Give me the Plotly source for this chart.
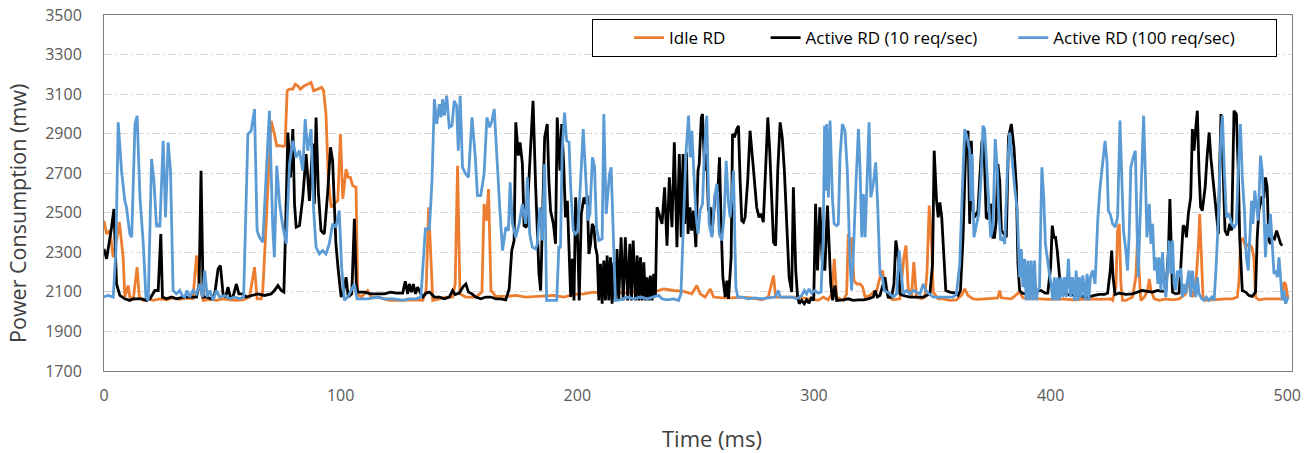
import plotly.graph_objects as go

# ---- data (time in ms, power in mW) ----
idle_rd = [
(0,2460),(1.1,2393),(2.5,2410),(3.9,2275),(5.3,2360),(6.5,2452),(8.1,2275),(8.8,2074),(10.2,2132),(10.9,2074),(12.4,2065),(14.0,2225),(14.9,2074),(16.6,2057),(18.7,2065),(20.8,2057),(23.6,2065),(26.4,2060),(29.2,2070),(32.0,2062),(34.8,2068),(37.6,2065),(39.1,2284),(40.2,2140),(41.9,2057),(44.7,2062),(47.5,2057),(50.3,2065),(53.1,2060),(55.9,2057),(58.7,2060),
(61.5,2074),(63.6,2225),(64.7,2065),(66.4,2065),(67.1,2107),(68.1,2343),(69.2,2595),(70.6,2965),(72.0,2898),(73.0,2839),(74.2,2839),(75.6,2836),(76.5,2839),(77.4,3117),(78.4,3125),(79.8,3125),(80.8,3150),(81.9,3142),(83.0,3125),(84.7,3142),(86.1,3150),(87.5,3159),(88.6,3117),(90.3,3125),(92.0,3134),(92.8,3117),(93.8,3000),(94.8,2662),(96.0,2528),(97.3,2545),(98.8,2561),(99.9,2898),(100.9,2570),(102.3,2721),(103.2,2679),(104.1,2679),(105.1,2637),(106.5,2629),(107.2,2090),(108.6,2074),(111.4,2107),(112.8,2074),(115.6,2074),(118.4,2065),
(120.6,2057),(124.8,2057),(129.0,2060),(134.7,2057),(136.1,2107),(137.2,2528),(138.2,2292),(138.9,2057),(141.7,2065),(144.5,2074),(147.3,2074),(148.4,2140),(149.4,2738),(150.4,2090),(152.9,2074),(157.1,2074),(159.7,2099),(160.6,2545),(161.6,2460),(162.5,2620),(163.5,2107),(165.6,2077),(169.8,2077),(174.0,2082),(178.2,2074),(182.4,2077),
(185.9,2077),(190.1,2082),(194.3,2074),(198.6,2087),(202.8,2090),(207.0,2099),(211.2,2090),(215.4,2099),(219.6,2094),(223.9,2099),(228.1,2099),(232.3,2099),(236.5,2115),(240.7,2107),(244.9,2103),
(248.4,2090),(250.5,2132),(251.9,2090),(254.0,2074),(256.2,2115),(257.6,2074),(261.1,2070),(265.3,2070),(269.5,2074),(273.7,2070),(277.9,2060),(280.7,2074),(282.9,2183),(283.8,2074),(286.4,2074),(289.2,2077),(293.4,2074),(297.6,2065),(301.8,2057),(303.9,2074),(306.0,2060),
(307.5,2090),(308.6,2267),(309.6,2074),(312.4,2057),(313.8,2090),(314.5,2393),(315.2,2275),(315.9,2376),(316.9,2157),(318.1,2140),(319.5,2140),(320.6,2124),(321.6,2074),(323.7,2082),(325.1,2099),(326.5,2107),(327.9,2174),(329.0,2208),(330.0,2124),(331.4,2074),(333.5,2060),(336.3,2065),(338.0,2275),(338.9,2334),(339.8,2124),(341.2,2074),(342.2,2250),(343.3,2074),(345.5,2065),(346.9,2074),(347.8,2208),(348.7,2536),(349.7,2343),(350.4,2099),(352.5,2065),(354.6,2065),(357.4,2057),(360.2,2060),(362.3,2082),(363.7,2115),(365.1,2082),(367.2,2065),
(369.3,2062),(373.5,2065),(377.7,2070),(378.5,2107),(379.2,2070),(383.4,2065),(386.9,2099),(388.3,2070),(393.2,2065),(398.8,2062),(404.4,2065),(410.1,2060),(415.7,2065),(421.3,2062),(425.5,2065),
(426.2,2057),(427.6,2124),(428.3,2410),(429.0,2444),(429.7,2140),(430.4,2057),(431.8,2057),(434.6,2074),(436.0,2174),(436.7,2360),(437.4,2208),(438.1,2057),(439.6,2074),(441.0,2107),(441.7,2166),(442.4,2107),(443.8,2065),(445.9,2057),(448.7,2065),(451.5,2060),(454.3,2065),(457.1,2090),(458.5,2157),(459.9,2074),(461.3,2124),(462.5,2343),(463.0,2494),(463.9,2225),(464.4,2074),(465.6,2057),(468.4,2060),(471.2,2065),(474.0,2065),(476.8,2065),(478.9,2074),(479.6,2157),(480.3,2360),(481.3,2368),(482.4,2326),(483.8,2343),(485.0,2326),(485.9,2275),(486.6,2074),(488.0,2060),(490.8,2065),(493.7,2065),(496.5,2065),(497.9,2065),(498.6,2149),(499.3,2140),(500.3,2065),
]

active_10 = [
(0,2317),(1.1,2267),(3.2,2427),(4.2,2519),(5.3,2140),(6.7,2082),(8.8,2065),(10.9,2057),(12.4,2065),(13.8,2065),(15.9,2065),(18.0,2057),(19.4,2065),(21.5,2107),(22.9,2107),(24.0,2393),(24.7,2074),(26.4,2065),(28.5,2074),(30.6,2065),(33.4,2074),(36.2,2074),(39.1,2074),(40.2,2140),(41.0,2713),(41.9,2074),(43.3,2074),(45.4,2065),(46.8,2090),(48.2,2216),(49.2,2233),(50.3,2090),(51.4,2074),(52.4,2124),(53.4,2074),(54.5,2074),(55.9,2140),(57.0,2090),(58.7,2090),(60.1,2074),
(62.2,2082),(65.0,2090),(67.8,2082),(70.6,2090),(72.0,2107),(73.5,2132),(74.9,2107),(76.0,2099),(76.5,2309),(77.7,2906),(78.8,2679),(79.8,2923),(80.5,2545),(81.2,2427),(82.6,2435),(84.0,2578),(85.4,2797),(86.8,2560),(88.2,2850),(88.9,2545),(89.6,2982),(90.6,2600),(91.7,2410),(93.1,2393),(94.5,2600),(95.7,2831),(96.6,2763),(98.0,2343),(99.0,2208),(100.2,2074),(101.3,2107),(102.3,2174),(103.2,2074),(104.7,2090),(105.8,2469),(106.6,2140),(107.2,2099),(110.0,2099),(112.8,2090),(115.6,2090),(118.4,2090),(121.2,2099),
(123.4,2094),(126.2,2094),(127.3,2154),(128.3,2090),(129.0,2140),(129.9,2099),(130.7,2140),(131.6,2090),(132.5,2124),(133.5,2099),(134.7,2074),(136.1,2094),(137.5,2099),(139.6,2074),(141.7,2074),(143.8,2065),(145.9,2074),(147.3,2107),(148.4,2087),(150.1,2094),(151.8,2127),(152.9,2140),(154.0,2099),(155.5,2090),(157.1,2074),(159.2,2065),(161.4,2074),(163.5,2074),(165.6,2065),(167.7,2065),(169.8,2060),(171.2,2115),(172.3,2309),(173.3,2360),(174.0,2957),(175.1,2789),(175.8,2856),(176.8,2747),(177.5,2435),(178.5,2427),(179.6,2662),(181.3,3066),(182.4,2629),
(183.8,2191),(184.5,2107),(185.2,2477),(186.2,2881),(187.3,2949),(188.0,2662),(188.7,2511),(189.9,2444),(190.8,2343),(191.5,2982),(192.7,2713),(193.4,2949),(194.3,2730),(195.0,2477),(195.8,2561),(196.5,2258),(197.2,2074),(197.9,2267),(198.6,2057),(199.3,2578),(200.2,2343),(200.8,2057),(201.7,2494),(202.8,2578),(203.5,2545),(204.2,2587),(204.9,2292),(205.6,2343),(206.3,2444),(207.0,2427),(207.7,2326),(208.4,2284),(209.1,2057),(209.8,2242),(210.5,2040),(211.2,2258),(211.9,2057),(212.6,2284),(213.3,2057),(214.0,2275),(214.7,2040),(215.4,2250),(216.1,2057),(216.8,2317),(217.5,2057),(218.5,2376),(219.4,2057),(220.3,2376),(221.3,2057),(222.2,2343),(222.9,2057),(223.6,2360),(224.6,2057),(225.3,2284),(226.0,2057),(226.7,2275),(227.4,2057),(228.1,2250),(228.8,2057),(229.5,2174),(230.2,2057),(230.9,2183),(231.6,2057),(232.3,2191),(233.0,2074),(233.7,2528),(234.8,2477),(235.8,2444),(236.9,2629),(237.9,2334),(238.9,2679),(240.0,2427),(241.0,2856),(242.1,2326),(243.1,2797),(243.9,2376),
(244.7,2797),(245.4,2444),(246.1,2805),(246.8,2393),(247.6,2528),(248.3,2410),(249.1,2511),(250.1,2326),(251.0,2713),(251.5,2747),(252.4,2982),(252.9,2999),(253.8,2713),(254.7,2797),(255.4,2511),(256.2,2528),(256.9,2393),(258.3,2595),(259.4,2612),(260.1,2780),(260.8,2427),(261.5,2174),(262.5,2074),(263.2,2157),(263.9,2065),(265.0,2275),(265.6,2898),(266.4,2881),(267.4,2923),(268.1,2940),(268.8,2662),(269.5,2460),(270.2,2452),(270.9,2477),(272.0,2662),(273.0,2915),(274.0,2780),(274.8,2646),(275.8,2528),(276.8,2477),(277.7,2494),(278.6,2452),(279.6,2763),(280.5,2982),(281.3,2814),(282.1,2545),(282.9,2351),(283.8,2334),(284.7,2713),(285.7,2957),(286.6,2881),(287.5,2713),(288.5,2427),(289.5,2174),(290.6,2099),(291.3,2629),(292.3,2208),(293.1,2074),(293.8,2040),(294.8,2057),(295.9,2040),(296.9,2060),(297.9,2043),(299.0,2074),(299.9,2057),(300.7,2545),(301.5,2208),(302.5,2528),(303.5,2258),(304.6,2208),
(305.7,2536),(306.5,2343),(307.1,2140),(307.9,2057),(308.9,2132),(309.6,2057),(311.0,2057),(312.4,2060),(314.5,2065),(316.6,2057),(318.8,2060),(320.9,2060),(323.0,2065),(325.1,2074),(325.8,2107),(326.8,2074),(327.9,2082),(329.0,2124),(330.0,2174),(330.7,2115),(331.4,2074),(332.8,2074),(333.8,2140),(334.6,2360),(335.6,2275),(336.3,2090),(337.7,2082),(340.5,2074),(343.3,2074),(346.2,2074),(349.0,2090),(350.1,2242),(350.8,2814),(351.8,2561),(352.5,2477),(353.2,2553),(354.0,2477),(354.9,2275),(355.7,2107),(357.4,2099),(359.5,2094),(360.9,2082),(361.9,2107),(363.0,2376),(364.1,2814),(365.1,2915),(365.8,2444),(366.5,2864),
(367.2,2511),(367.9,2477),(368.6,2494),(369.3,2511),(370.0,2662),(371.0,2864),(371.8,2848),(372.8,2477),(373.5,2469),(374.7,2545),(375.6,2376),(376.3,2376),(377.0,2460),(377.7,2747),(378.5,2662),(379.2,2410),(380.3,2393),(381.3,2376),(382.2,2881),(383.4,2949),(384.5,2831),(385.5,2637),(386.2,2242),(386.9,2107),(387.9,2094),(389.0,2090),(390.4,2094),(392.5,2099),(394.6,2107),(396.0,2107),(397.7,2094),(398.8,2094),(400.0,2225),(400.7,2435),(401.4,2376),(402.1,2376),(402.8,2309),(403.7,2174),(404.4,2094),(407.3,2087),(410.1,2082),(412.9,2077),(415.7,2074),(418.5,2082),(420.6,2087),(422.7,2087),(424.1,2094),(425.2,2208),(425.8,2309),(426.4,2174),(427.2,2087),
(429.0,2094),(431.8,2087),(434.6,2090),(436.7,2099),(438.8,2107),(441.0,2103),(443.1,2099),(445.2,2107),(447.3,2103),(448.7,2107),(449.8,2309),(450.4,2570),(450.9,2343),(451.5,2099),(452.9,2090),(454.3,2094),(455.0,2225),(456.0,2435),(456.8,2427),(457.4,2376),(458.2,2494),(459.2,2578),(459.9,2923),(460.6,2814),(461.3,2923),(462.0,3016),(462.7,2713),(463.4,2528),(464.1,2511),(465.3,2629),(466.1,2780),(467.0,2906),(467.7,2780),(468.6,2662),(469.8,2511),(470.9,2393),(471.4,2713),(472.0,2999),(472.9,2713),(473.7,2410),(474.7,2385),(475.7,2444),(476.5,2410),(477.5,3016),(478.5,2999),(479.3,2713),(479.9,2376),(480.4,2208),(481.0,2107),(482.4,2099),(483.8,2082),(485.2,2077),(486.6,2099),(487.3,2376),(488.0,2511),(489.2,2578),(490.1,2578),(490.8,2679),(491.5,2629),(492.2,2360),(492.9,2343),(493.7,2376),(494.6,2368),(495.5,2410),(496.5,2376),(497.2,2343),(497.9,2334),
]

active_100 = [
(0,2074),(1.8,2082),(3.9,2074),(5.0,2300),(6.0,2957),(7.4,2713),(8.8,2561),(9.5,2528),(10.9,2393),(11.7,2376),(13.1,2948),(14.0,2990),(15.2,2578),(16.6,2343),(17.7,2074),(18.7,2057),(20.1,2772),(21.1,2662),(22.2,2427),(22.9,2444),(23.6,2427),(25.0,2864),(26.0,2477),(27.1,2856),(28.1,2713),(29.2,2107),(30.6,2090),(32.0,2107),(33.0,2082),(34.1,2074),(35.1,2107),(36.2,2074),(37.6,2107),(39.1,2090),(40.5,2140),(41.6,2074),(42.6,2208),(43.6,2074),(44.7,2107),(46.1,2057),(47.5,2107),(48.9,2074),(51.0,2082),(53.1,2065),(55.2,2074),(57.3,2065),(59.0,2074),
(60.8,2898),(62.2,2915),(63.6,3024),(64.7,2410),(65.7,2376),(67.1,2351),(68.5,2713),(69.9,3016),(71.3,2427),(72.0,2275),(73.0,2738),(74.2,2545),(75.6,2427),(77.0,2343),(78.4,2747),(79.8,2864),(81.2,2780),(82.6,2814),(84.0,2713),(85.0,2974),(86.1,2814),(87.5,2923),(88.6,2511),(89.6,2326),(91.0,2292),(92.4,2309),(93.8,2292),(95.2,2343),(96.6,2444),(98.0,2427),(99.4,2511),(100.4,2225),(101.6,2057),(103.0,2074),(104.4,2107),(105.8,2140),(106.9,2065),(108.6,2065),(111.4,2065),(115.6,2074),(118.4,2065),(122.6,2065),
(126.2,2057),(129.0,2065),(131.8,2065),(133.9,2074),(134.7,2208),(135.8,2418),(137.5,2418),(138.6,2662),(139.6,3075),(140.6,2949),(141.7,3049),(142.4,2982),(143.1,3075),(143.8,2991),(144.8,3092),(145.9,2932),(147.0,2940),(148.0,3066),(149.0,3041),(149.7,2814),(150.5,3092),(151.5,2730),(152.9,2696),(154.0,2679),(155.5,2982),(156.9,2780),(157.8,2587),(159.2,2587),(160.6,2696),(161.8,2982),(163.0,2932),(163.9,2965),(164.9,3024),(165.9,2780),(167.3,2511),(168.4,2309),(169.8,2427),(170.9,2410),(171.6,2654),(172.6,2444),(174.0,2376),(175.4,2444),(176.8,2545),(178.2,2444),(178.9,2679),(179.9,2393),(181.0,2326),(182.4,2317),
(183.1,2343),(184.2,2528),(185.2,2360),(186.2,2747),(187.0,2057),(188.7,2057),(190.1,2057),(191.3,2057),(192.2,2326),(192.9,2326),(193.6,2814),(194.6,3007),(195.5,2864),(196.5,2856),(197.2,2629),(198.3,2410),(199.3,2393),(200.2,2410),(201.4,2662),(202.5,2923),(203.5,2696),(204.5,2460),(205.3,2494),(206.4,2780),(207.3,2730),(208.1,2427),(209.1,2360),(210.5,2368),(211.2,2999),(212.2,2494),(212.9,2595),(213.6,2696),(214.3,2730),(215.1,2410),(216.1,2057),(218.2,2060),(221.0,2074),(223.9,2065),(226.7,2074),(229.5,2065),(232.3,2074),(234.4,2082),(235.8,2065),(237.9,2060),(240.7,2065),(242.8,2057),(243.8,2090),
(244.9,2494),(245.9,2797),(247.0,2991),(247.7,2780),(248.4,2915),(249.1,2763),(250.1,2494),(251.0,2393),(251.9,2511),(252.9,2545),(253.8,2831),(254.7,2991),(255.7,2444),(256.9,2376),(258.0,2578),(259.0,2646),(260.0,2393),(261.1,2360),(262.1,2494),(262.9,2763),(263.9,2545),(264.6,2477),(266.0,2713),(267.0,2124),(267.8,2074),(269.5,2074),(272.3,2065),(275.1,2070),(277.9,2065),(280.7,2070),(283.6,2074),(285.0,2107),(285.7,2074),(287.8,2074),(290.6,2074),(292.7,2065),(294.8,2082),(295.9,2107),(296.9,2090),(297.9,2115),(299.0,2094),(300.4,2107),(301.8,2094),(303.0,2099),
(303.9,2376),(304.5,2940),(305.0,2612),(305.4,2949),(306.1,2578),(306.8,2966),(307.8,2578),(308.5,2444),(309.6,2435),(310.3,2444),(311.0,2780),(312.0,2949),(313.1,2915),(314.1,2713),(315.2,2258),(315.9,2107),(316.6,2275),(317.8,2662),(318.8,2923),(319.5,2713),(320.2,2376),(320.9,2595),(321.6,2376),(322.3,2612),(323.3,2957),(324.0,2578),(325.1,2646),(326.1,2755),(326.9,2545),(327.9,2191),(328.9,2174),(329.7,2107),(330.7,2099),(332.1,2090),(333.5,2074),(334.9,2090),(336.0,2309),(337.0,2174),(337.7,2090),(339.1,2107),(340.5,2090),(341.9,2107),(343.3,2099),(344.8,2090),(346.2,2140),(347.3,2107),(348.7,2090),(350.4,2074),(352.5,2074),(354.6,2074),(356.7,2074),(358.8,2074),(360.2,2090),(361.6,2242),(362.7,2612),(363.7,2923),(364.7,2881),(365.8,2814),(366.3,2560),
(366.8,2797),(367.6,2376),(368.6,2444),(369.6,2494),(370.7,2696),(371.4,2940),(372.1,2923),(372.8,2780),(373.5,2646),(374.7,2376),(375.6,2427),(376.6,2873),(377.5,2713),(378.0,2528),(378.9,2360),(379.9,2376),(380.6,2343),(381.7,2713),(382.7,2906),(383.8,2747),(384.8,2629),(385.9,2511),(386.9,2174),(387.6,2317),(388.3,2124),(389.0,2267),(389.7,2057),(390.4,2258),(391.1,2057),(391.8,2258),(392.5,2057),(393.2,2258),(393.9,2057),(394.6,2107),(395.3,2124),(396.3,2730),(397.1,2578),(397.8,2343),(398.8,2242),(399.5,2191),(400.2,2140),(400.9,2057),(401.6,2174),(402.3,2057),(403.0,2174),(403.7,2057),(404.4,2174),(405.2,2074),(405.9,2174),(406.7,2074),(407.5,2267),(408.4,2074),(409.2,2174),(410.1,2057),(410.8,2208),(411.5,2057),(412.2,2174),(412.9,2074),(413.6,2183),(414.6,2057),(415.4,2191),(416.1,2057),(416.8,2174),(417.8,2208),(418.8,2140),(419.9,2460),(420.9,2629),(422.0,2763),(423.0,2864),(423.8,2763),(424.4,2511),(425.2,2494),(426.2,2444),
(427.3,2427),(428.3,2477),(429.3,2966),(430.1,2713),(430.8,2410),(431.8,2309),(432.5,2208),(433.2,2393),(433.9,2730),(434.9,2780),(435.8,2814),(436.3,2545),(437.0,2174),(437.7,2427),(438.6,2713),(439.3,2991),(440.0,2713),(440.7,2376),(441.7,2545),(442.4,2343),(443.1,2444),(443.9,2208),(444.6,2275),(445.3,2140),(445.9,2275),(446.6,2107),(447.3,2300),(448.0,2140),(448.7,2074),(449.5,2275),(450.1,2360),(450.8,2191),(451.5,2360),(452.2,2140),(452.9,2107),(453.6,2208),(454.3,2174),(455.0,2220),(455.7,2074),(456.4,2140),(457.1,2090),(457.8,2157),(458.5,2208),(459.2,2074),(459.9,2208),(460.6,2124),(461.3,2074),(462.0,2174),(462.7,2090),(463.9,2065),(464.8,2057),(465.8,2074),(466.9,2057),(468.1,2074),(469.1,2057),(470.0,2242),(470.9,2477),(471.9,2881),(472.6,2991),(473.4,2713),(474.3,2477),(475.4,2494),(476.5,2444),(477.5,2427),(478.5,2444),(479.3,2713),(480.2,2949),(481.0,2679),(481.9,2511),(482.7,2275),(483.5,2208),(484.4,2427),(484.9,2561),(485.5,2444),(486.3,2612),(486.9,2545),(487.7,2460),(488.7,2789),(489.4,2713),(490.1,2511),(490.8,2275),(491.5,2444),(492.2,2376),(492.9,2494),(493.7,2343),(494.4,2191),(495.1,2208),(495.8,2174),(496.5,2275),(497.2,2140),(497.9,2057),(498.6,2107),(499.3,2040),(500.3,2074),
]

series_names = ["Idle RD", "Active RD (10 req/sec)", "Active RD (100 req/sec)"]
series_colors = ["#ED7D31", "#000000", "#5B9BD5"]
y_ticks = [1700, 1900, 2100, 2300, 2500, 2700, 2900, 3100, 3300, 3500]
x_ticks = [0, 100, 200, 300, 400, 500]
x_title = "Time (ms)"
y_title = "Power Consumption (mw)"

FONT = "Open Sans"
NB = "\u00a0"
legend_pad = [NB * 8, NB * 7, NB * 8]

fig = go.Figure()
for data, name, color, pad in zip([idle_rd, active_10, active_100], series_names, series_colors, legend_pad):
    fig.add_trace(go.Scatter(
        x=[p[0] for p in data], y=[p[1] for p in data],
        mode="lines", name=name + pad,
        line=dict(color=color, width=2.8),
    ))

axis_common = dict(
    showline=True, linecolor="#808080", linewidth=1, mirror=True,
    zeroline=False, ticks="", automargin=False, ticklabeloverflow="allow",
    tickfont=dict(family=FONT, size=16, color="#595959"),
)

fig.update_layout(
    width=1316, height=453,
    margin=dict(l=104, r=24, t=15, b=82),
    paper_bgcolor="white", plot_bgcolor="white",
    showlegend=True,
    legend=dict(
        orientation="h", x=0.987, xanchor="right", y=0.935, yanchor="middle",
        bgcolor="white", bordercolor="#000000", borderwidth=1,
        font=dict(family=FONT, size=17, color="#000000"),
        itemwidth=30,
        title=dict(text=NB * 6, side="left", font=dict(family=FONT, size=17)),
    ),
    xaxis=dict(
        range=[0, 502], tickvals=x_ticks, ticklabelstandoff=10, showgrid=False,
        **axis_common,
    ),
    yaxis=dict(
        range=[1700, 3500], tickvals=y_ticks, ticklabelstandoff=18,
        showgrid=True, gridcolor="#d9d9d9", gridwidth=1, griddash="8px,3px,2px,3px",
        **axis_common,
    ),
    annotations=[
        dict(text=x_title, xref="paper", yref="paper", x=0.512, y=-0.188,
             xanchor="center", yanchor="middle", showarrow=False,
             font=dict(family=FONT, size=22, color="#404040")),
        dict(text=y_title, xref="paper", yref="paper", x=-0.0724, y=0.444,
             xanchor="center", yanchor="middle", textangle=-90, showarrow=False,
             font=dict(family=FONT, size=21.5, color="#404040")),
    ],
)

# remove the default page margin so the figure sits at the window's top-left corner
fig.write_html(
    "out.html",
    config={"displayModeBar": False},
    post_script="document.body.style.margin='0';",
)
